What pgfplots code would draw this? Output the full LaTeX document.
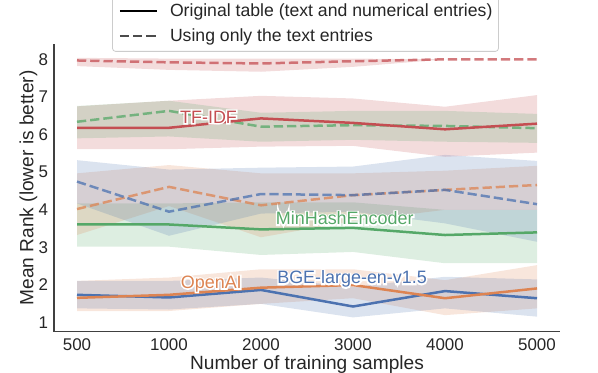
\documentclass[border=0pt]{standalone}
\usepackage{pgfplots}
\pgfplotsset{compat=1.18}
\usepgfplotslibrary{fillbetween}
\usepackage{pgfplotstable}
\usepackage{fontspec}
\setmainfont{Liberation Sans}
\newfontface\halofont{Liberation Sans}[FakeBold=16]

\definecolor{cblue}{HTML}{4C72B0}
\definecolor{corange}{HTML}{DD8452}
\definecolor{cgreen}{HTML}{55A868}
\definecolor{cred}{HTML}{C44E52}
\definecolor{ctext}{HTML}{262626}

% x m lo hi
\pgfplotstableread{
x m lo hi
0 6.18 5.61 6.75
1 6.18 5.61 6.90
2 6.43 5.68 7.03
3 6.31 5.70 6.96
4 6.14 5.41 6.74
5 6.29 5.52 7.05
}\tfidf
\pgfplotstableread{
x m lo hi
0 7.97 7.82 8.04
1 7.92 7.72 8.02
2 7.89 7.67 8.02
3 7.95 7.80 8.02
4 8.00 8.00 8.00
5 8.00 8.00 8.00
}\tfidftext
\pgfplotstableread{
x m lo hi
0 3.61 3.02 4.17
1 3.61 3.02 4.17
2 3.48 2.80 4.20
3 3.52 2.88 4.20
4 3.33 2.58 4.00
5 3.40 2.58 4.00
}\minhash
\pgfplotstableread{
x m lo hi
0 6.34 5.90 6.76
1 6.63 5.95 6.90
2 6.21 5.81 6.58
3 6.25 5.86 6.63
4 6.23 5.81 6.63
5 6.17 5.78 6.55
}\minhashtext
\pgfplotstableread{
x m lo hi
0 1.66 1.31 2.11
1 1.74 1.31 2.20
2 1.93 1.50 2.42
3 2.00 1.65 2.42
4 1.65 1.20 2.13
5 1.91 1.38 2.53
}\openai
\pgfplotstableread{
x m lo hi
0 4.02 3.33 4.97
1 4.61 4.10 5.19
2 4.12 3.27 4.97
3 4.39 3.70 4.97
4 4.53 4.00 5.04
5 4.66 4.00 5.17
}\openaitext
\pgfplotstableread{
x m lo hi
0 1.74 1.38 2.11
1 1.67 1.35 2.11
2 1.87 1.50 2.20
3 1.43 1.14 1.95
4 1.84 1.38 2.22
5 1.65 1.16 2.15
}\bge
\pgfplotstableread{
x m lo hi
0 4.75 4.17 5.32
1 3.95 3.31 5.07
2 4.42 3.90 5.12
3 4.39 3.95 5.15
4 4.53 3.64 5.46
5 4.15 3.15 5.30
}\bgetext

\newcommand{\band}[3]{%
  \addplot[draw=none, forget plot, name path=#2u] table[x=x,y=hi]{#1};
  \addplot[draw=none, forget plot, name path=#2l] table[x=x,y=lo]{#1};
  \addplot[fill=#3, fill opacity=0.2, draw=none, forget plot] fill between[of=#2u and #2l];
}
\newcommand{\halolabel}[4]{% x, y, color, text
  \node[font=\fontsize{18}{20}\halofont, text=white, inner sep=0pt] at (axis cs:#1,#2) {#4};
  \node[font=\fontsize{18}{20}\selectfont, text=#3, inner sep=0pt] at (axis cs:#1,#2) {#4};
}

\begin{document}
\begin{tikzpicture}
\begin{axis}[
  scale only axis,
  width=506bp, height=287.4bp,
  xmin=-0.25, xmax=5.25,
  ymin=0.76, ymax=8.40,
  axis x line*=bottom, axis y line*=left,
  axis line style={-, draw=black!75, line width=1.1bp},
  major tick length=0pt,
  xtick={0,1,2,3,4,5},
  xticklabels={500,1000,2000,3000,4000,5000},
  ytick={1,2,3,4,5,6,7,8},
  /pgf/number format/assume math mode=true,
  tick label style={font=\fontsize{17}{20}\selectfont, text=ctext, inner sep=0pt},
  xticklabel style={yshift=-7bp},
  yticklabel style={xshift=-5.7bp},
  xlabel={Number of training samples},
  ylabel={Mean Rank (lower is better)},
  label style={font=\fontsize{19.2}{22}\selectfont, text=ctext, inner sep=0pt},
  xlabel style={at={(axis description cs:0.5,-0.081)}, anchor=north},
  ylabel style={at={(axis description cs:-0.0409,0.5)}, anchor=base},
  legend style={
    at={(rel axis cs:0.497,0.974)}, anchor=south,
    font=\fontsize{17.7}{20}\selectfont, text=ctext,
    draw=black!20, line width=0.8bp, rounded corners=3bp, fill=white,
    inner xsep=6bp, inner ysep=8.4bp,
    row sep=10.5bp, column sep=0pt,
    nodes={inner sep=0pt, anchor=west},
  },
  legend cell align=left,
  legend image code/.code={\draw[#1] (0bp,0bp) -- (37bp,0bp);},
]
\band{\tfidftext}{rt}{cred}
\band{\tfidf}{rs}{cred}
\band{\minhashtext}{gt}{cgreen}
\band{\minhash}{gs}{cgreen}
\band{\openaitext}{ot}{corange}
\band{\openai}{os}{corange}
\band{\bgetext}{bt}{cblue}
\band{\bge}{bs}{cblue}

\addplot[cred, opacity=0.75, line width=2.5bp, dash pattern=on 9.25bp off 4bp, forget plot] table[x=x,y=m]{\tfidftext};
\addplot[cgreen, opacity=0.75, line width=2.5bp, dash pattern=on 9.25bp off 4bp, forget plot] table[x=x,y=m]{\minhashtext};
\addplot[cred, line width=2.5bp, forget plot] table[x=x,y=m]{\tfidf};
\addplot[corange, opacity=0.75, line width=2.5bp, dash pattern=on 9.25bp off 4bp, forget plot] table[x=x,y=m]{\openaitext};
\addplot[cblue, opacity=0.75, line width=2.5bp, dash pattern=on 9.25bp off 4bp, forget plot] table[x=x,y=m]{\bgetext};
\addplot[cgreen, line width=2.5bp, forget plot] table[x=x,y=m]{\minhash};
\addplot[cblue, line width=2.5bp, forget plot] table[x=x,y=m]{\bge};
\addplot[corange, line width=2.5bp, forget plot] table[x=x,y=m]{\openai};

\halolabel{1.43}{6.47}{cred}{TF-IDF}
\halolabel{2.91}{3.775}{cgreen}{MinHashEncoder}
\halolabel{1.46}{2.03}{corange}{OpenAI}
\halolabel{2.99}{2.155}{cblue}{BGE-large-en-v1.5}

\addlegendimage{black, line width=2.5bp}
\addlegendentry{\hspace*{12bp}Original table (text and numerical entries)}
\addlegendimage{black!70, line width=2.5bp, dash pattern=on 9.25bp off 4bp}
\addlegendentry{\hspace*{12bp}Using only the text entries}
\end{axis}
\pgfresetboundingbox
\path[use as bounding box] (-54bp,-41.3bp) rectangle (544bp,331.7bp);
\end{tikzpicture}
\end{document}
